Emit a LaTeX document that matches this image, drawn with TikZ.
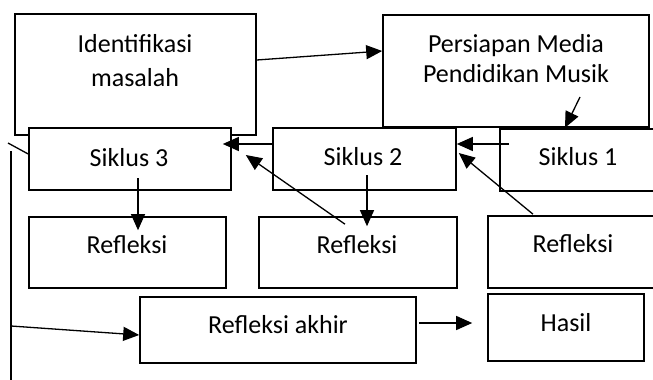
\documentclass[tikz,border=0pt]{standalone}
\usepackage{fontspec}
\setmainfont{Carlito}
\usetikzlibrary{arrows.meta}
\begin{document}
\begin{tikzpicture}[x=1pt,y=-1pt,
 box/.style={draw, line width=1.6pt, fill=white, inner sep=0pt},
 txt/.style={inner sep=0pt, anchor=base, font=\fontsize{26}{34}\selectfont},
 con/.style={line width=1.3pt},
 arr/.style={con, -{Triangle[length=16pt,width=14pt]}}]
\useasboundingbox (0,0) rectangle (653,380);
% boxes
\node[box, minimum width=241pt, minimum height=121pt] (id) at (135.5,74.5) {};
\node[box, minimum width=266pt, minimum height=112pt] (pm) at (516,71) {};
\node[box, minimum width=202pt, minimum height=62pt] (s3) at (130,159) {};
\node[box, minimum width=183pt, minimum height=62pt] (s2) at (364.5,159) {};
\node[box, minimum width=160pt, minimum height=62pt] (s1) at (580,160) {};
\node[box, minimum width=197pt, minimum height=71pt] (r1) at (127.5,252.5) {};
\node[box, minimum width=198pt, minimum height=71pt] (r2) at (358,252.5) {};
\node[box, minimum width=172pt, minimum height=72pt] (r3) at (574,252) {};
\node[box, minimum width=276pt, minimum height=66pt] (ra) at (278,330) {};
\node[box, minimum width=156pt, minimum height=67pt] (hs) at (566,327.5) {};
% texts
\node[txt] (idt1) at (135,52) {Identifikasi};
\node[txt] (idt2) at (135,86) {masalah};
\node[txt] (pmt1) at (516,52) {Persiapan Media};
\node[txt] (pmt2) at (516,82) {Pendidikan Musik};
\node[txt] (s3t) at (129,166) {Siklus 3};
\node[txt] (s2t) at (363,165) {Siklus 2};
\node[txt] (s1t) at (578,165) {Siklus 1};
\node[txt] (r1t) at (127,253) {Refleksi};
\node[txt] (r2t) at (357,253) {Refleksi};
\node[txt] (r3t) at (573,252) {Refleksi};
\node[txt] (rat) at (278,333) {Refleksi akhir};
\node[txt] (hst) at (566,331) {Hasil};
% free coordinates
\coordinate (p0) at (580,97);
\coordinate (L0) at (8,143);
\coordinate (L1) at (11,151);
\coordinate (L2) at (11,382);
\coordinate (La) at (11,326);
% connectors
\draw[arr] ([yshift=14.5pt]id.east) -- ([yshift=20pt]pm.west);
\draw[arr] (p0) -- ([xshift=49pt]pm.south);
\draw[arr] ([xshift=10pt,yshift=16pt]s1.west) -- ([yshift=15pt]s2.east);
\draw[arr] ([yshift=15pt]s2.west) -- ([xshift=-9pt,yshift=15pt]s3.east);
\draw[arr] ([xshift=-13pt,yshift=-8pt]r2.north) -- ([xshift=14pt,yshift=4pt]s3.east);
\draw[arr] ([xshift=-41pt,yshift=1pt]r3.north) -- ([xshift=2pt,yshift=6pt]s2.east);
\draw[arr] ([xshift=8pt,yshift=-19pt]s3.center) -- ([xshift=10.5pt,yshift=-14pt]r1.north);
\draw[arr] ([xshift=2.5pt,yshift=-16pt]s2.center) -- ([xshift=9pt,yshift=-10pt]r2.north);
\draw[arr] ([xshift=2pt,yshift=7pt]ra.east) -- ([xshift=-15pt,yshift=4.5pt]hs.west);
\draw[con] (L1) -- (L2);
\draw[con] (L0) -- ([yshift=5pt]s3.west);
\draw[arr] (La) -- ([yshift=-5pt]ra.west);
\end{tikzpicture}
\end{document}
